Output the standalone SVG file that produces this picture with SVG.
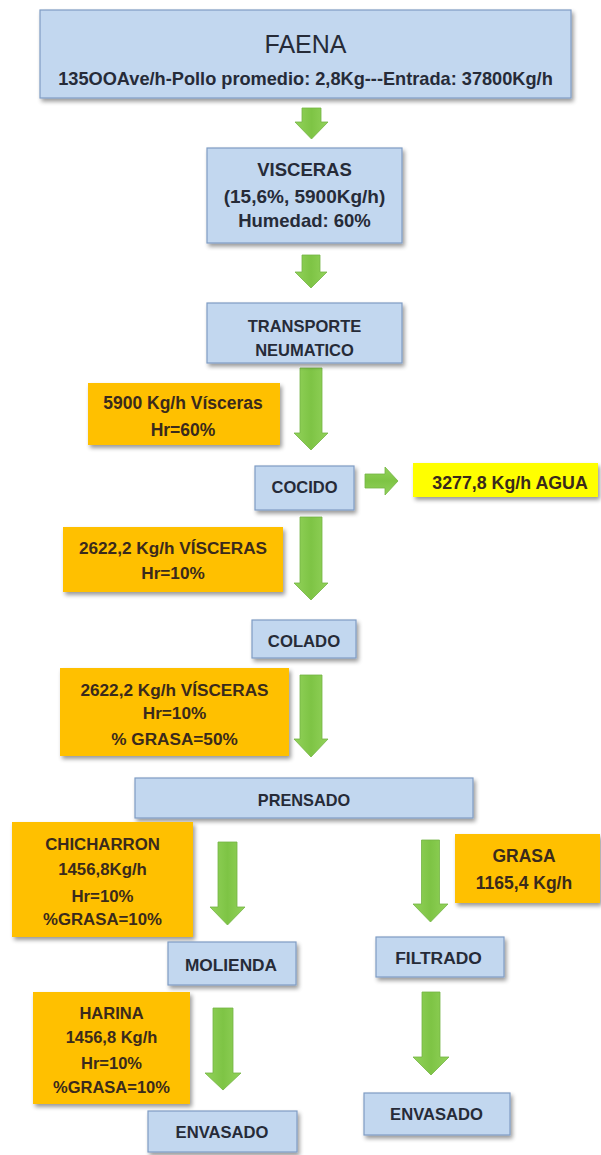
<svg xmlns="http://www.w3.org/2000/svg" width="601" height="1155" viewBox="0 0 601 1155">
<defs>
<filter id="sh" x="-10%" y="-15%" width="130%" height="150%">
<feGaussianBlur in="SourceAlpha" stdDeviation="2"/>
<feOffset dx="2" dy="3" result="o"/>
<feComponentTransfer><feFuncA type="linear" slope="0.4"/></feComponentTransfer>
<feMerge><feMergeNode/><feMergeNode in="SourceGraphic"/></feMerge>
</filter>
<linearGradient id="gv" x1="0" y1="0" x2="1" y2="0">
<stop offset="0" stop-color="#92d25a"/>
<stop offset="0.5" stop-color="#7ec445"/>
<stop offset="1" stop-color="#92d25a"/>
</linearGradient>
<linearGradient id="gh" x1="0" y1="0" x2="0" y2="1">
<stop offset="0" stop-color="#92d25a"/>
<stop offset="0.5" stop-color="#7ec445"/>
<stop offset="1" stop-color="#92d25a"/>
</linearGradient>
<style>
.b{fill:#c2d7ef;stroke:#7f9cc4;stroke-width:1.2;filter:url(#sh)}
.o{fill:#ffc000;filter:url(#sh)}
.y{fill:#ffff00;filter:url(#sh)}
.a{fill:url(#gv);stroke:#74b444;stroke-width:0.8}
.ah{fill:url(#gh);stroke:#74b444;stroke-width:0.8}
text{font-family:"Liberation Sans",Arial,sans-serif;text-anchor:middle;font-weight:bold}
.reg{font-weight:normal}
.tb{fill:#262b38}
.to{fill:#3a2a1c}
</style>
</defs>
<rect width="601" height="1155" fill="#ffffff"/>

<g id="connectors">
<path class="a" d="M302,108H321V122H328L311.5,139L295,122H302Z"/>
<path class="a" d="M302,255H320V272H327L311,288L295,272H302Z"/>
<path class="a" d="M300,368H322V433H328L311,450L294,433H300Z"/>
<path class="ah" d="M365,474V488H385V495L398,481L385,467V474Z"/>
<path class="a" d="M300,517H322V583H328L311,600L294,583H300Z"/>
<path class="a" d="M300,675H322V739H328L311,757L294,739H300Z"/>
<path class="a" d="M218,842H237V907H245L227.5,925L210,907H218Z"/>
<path class="a" d="M421.5,840H439.5V904H448L430.5,922L413,904H421.5Z"/>
<path class="a" d="M213,1008H233V1073H241L223,1090L205,1073H213Z"/>
<path class="a" d="M422,992H440V1057H449L431,1075L413,1057H422Z"/>
</g>

<g id="faena">
<rect class="b" x="40" y="10" width="531" height="88"/>
<text class="tb reg" x="305.5" y="53" font-size="25">FAENA</text>
<text class="tb" x="305.5" y="85" font-size="18.2">135OOAve/h-Pollo promedio: 2,8Kg---Entrada: 37800Kg/h</text>
</g>

<g id="visceras">
<rect class="b" x="207" y="148" width="195" height="95"/>
<text class="tb" x="304.5" y="176" font-size="18.5">VISCERAS</text>
<text class="tb" x="304.5" y="203" font-size="19">(15,6%, 5900Kg/h)</text>
<text class="tb" x="304.5" y="227" font-size="18.5">Humedad: 60%</text>
</g>

<g id="transporte">
<rect class="b" x="207" y="303" width="195" height="60"/>
<text class="tb" x="304.5" y="332" font-size="16.5">TRANSPORTE</text>
<text class="tb" x="304.5" y="356" font-size="16.5">NEUMATICO</text>
</g>

<g id="in-visceras">
<rect class="o" x="88" y="383" width="192" height="62"/>
<text class="to" x="183" y="409" font-size="17.5">5900 Kg/h Vísceras</text>
<text class="to" x="183" y="436" font-size="17.5">Hr=60%</text>
</g>

<g id="cocido">
<rect class="b" x="255" y="466" width="99" height="44"/>
<text class="tb" x="304.5" y="493" font-size="16.5">COCIDO</text>
</g>

<g id="agua">
<rect class="y" x="413" y="463" width="185" height="34"/>
<text class="to" x="510" y="489" font-size="17.8">3277,8 Kg/h AGUA</text>
</g>

<g id="visceras-cocidas">
<rect class="o" x="63" y="527" width="220" height="65"/>
<text class="to" x="173" y="554" font-size="17.2">2622,2 Kg/h VÍSCERAS</text>
<text class="to" x="173" y="579" font-size="17.2">Hr=10%</text>
</g>

<g id="colado">
<rect class="b" x="252" y="620" width="104" height="38"/>
<text class="tb" x="304" y="647" font-size="16.7">COLADO</text>
</g>

<g id="visceras-coladas">
<rect class="o" x="60" y="668" width="229" height="88"/>
<text class="to" x="174.5" y="696" font-size="17.2">2622,2 Kg/h VÍSCERAS</text>
<text class="to" x="174.5" y="719" font-size="17.2">Hr=10%</text>
<text class="to" x="174.5" y="745" font-size="17.2">% GRASA=50%</text>
</g>

<g id="prensado">
<rect class="b" x="135" y="778" width="338" height="40"/>
<text class="tb" x="304" y="806" font-size="16.3">PRENSADO</text>
</g>

<g id="chicharron">
<rect class="o" x="12" y="822" width="181" height="115"/>
<text class="to" x="102.5" y="850" font-size="16.8">CHICHARRON</text>
<text class="to" x="102.5" y="875" font-size="16.8">1456,8Kg/h</text>
<text class="to" x="102.5" y="902" font-size="16.8">Hr=10%</text>
<text class="to" x="102.5" y="925" font-size="16.8">%GRASA=10%</text>
</g>

<g id="grasa">
<rect class="o" x="455" y="834" width="145" height="69"/>
<text class="to" x="524" y="862" font-size="17.5">GRASA</text>
<text class="to" x="524" y="889" font-size="17.5">1165,4 Kg/h</text>
</g>

<g id="molienda">
<rect class="b" x="168" y="942" width="128" height="43"/>
<text class="tb" x="231" y="971" font-size="17.3">MOLIENDA</text>
</g>

<g id="filtrado">
<rect class="b" x="376" y="937" width="128" height="40"/>
<text class="tb" x="438.5" y="964" font-size="17.4">FILTRADO</text>
</g>

<g id="harina">
<rect class="o" x="33" y="992" width="157" height="112"/>
<text class="to" x="111.5" y="1019" font-size="16.5">HARINA</text>
<text class="to" x="111.5" y="1043" font-size="16.5">1456,8 Kg/h</text>
<text class="to" x="111.5" y="1069" font-size="16.5">Hr=10%</text>
<text class="to" x="111.5" y="1093" font-size="16.5">%GRASA=10%</text>
</g>

<g id="envasado-1">
<rect class="b" x="148" y="1111" width="149" height="41"/>
<text class="tb" x="222" y="1138" font-size="16.6">ENVASADO</text>
</g>

<g id="envasado-2">
<rect class="b" x="364" y="1093" width="146" height="42"/>
<text class="tb" x="436.5" y="1120" font-size="16.6">ENVASADO</text>
</g>
</svg>
